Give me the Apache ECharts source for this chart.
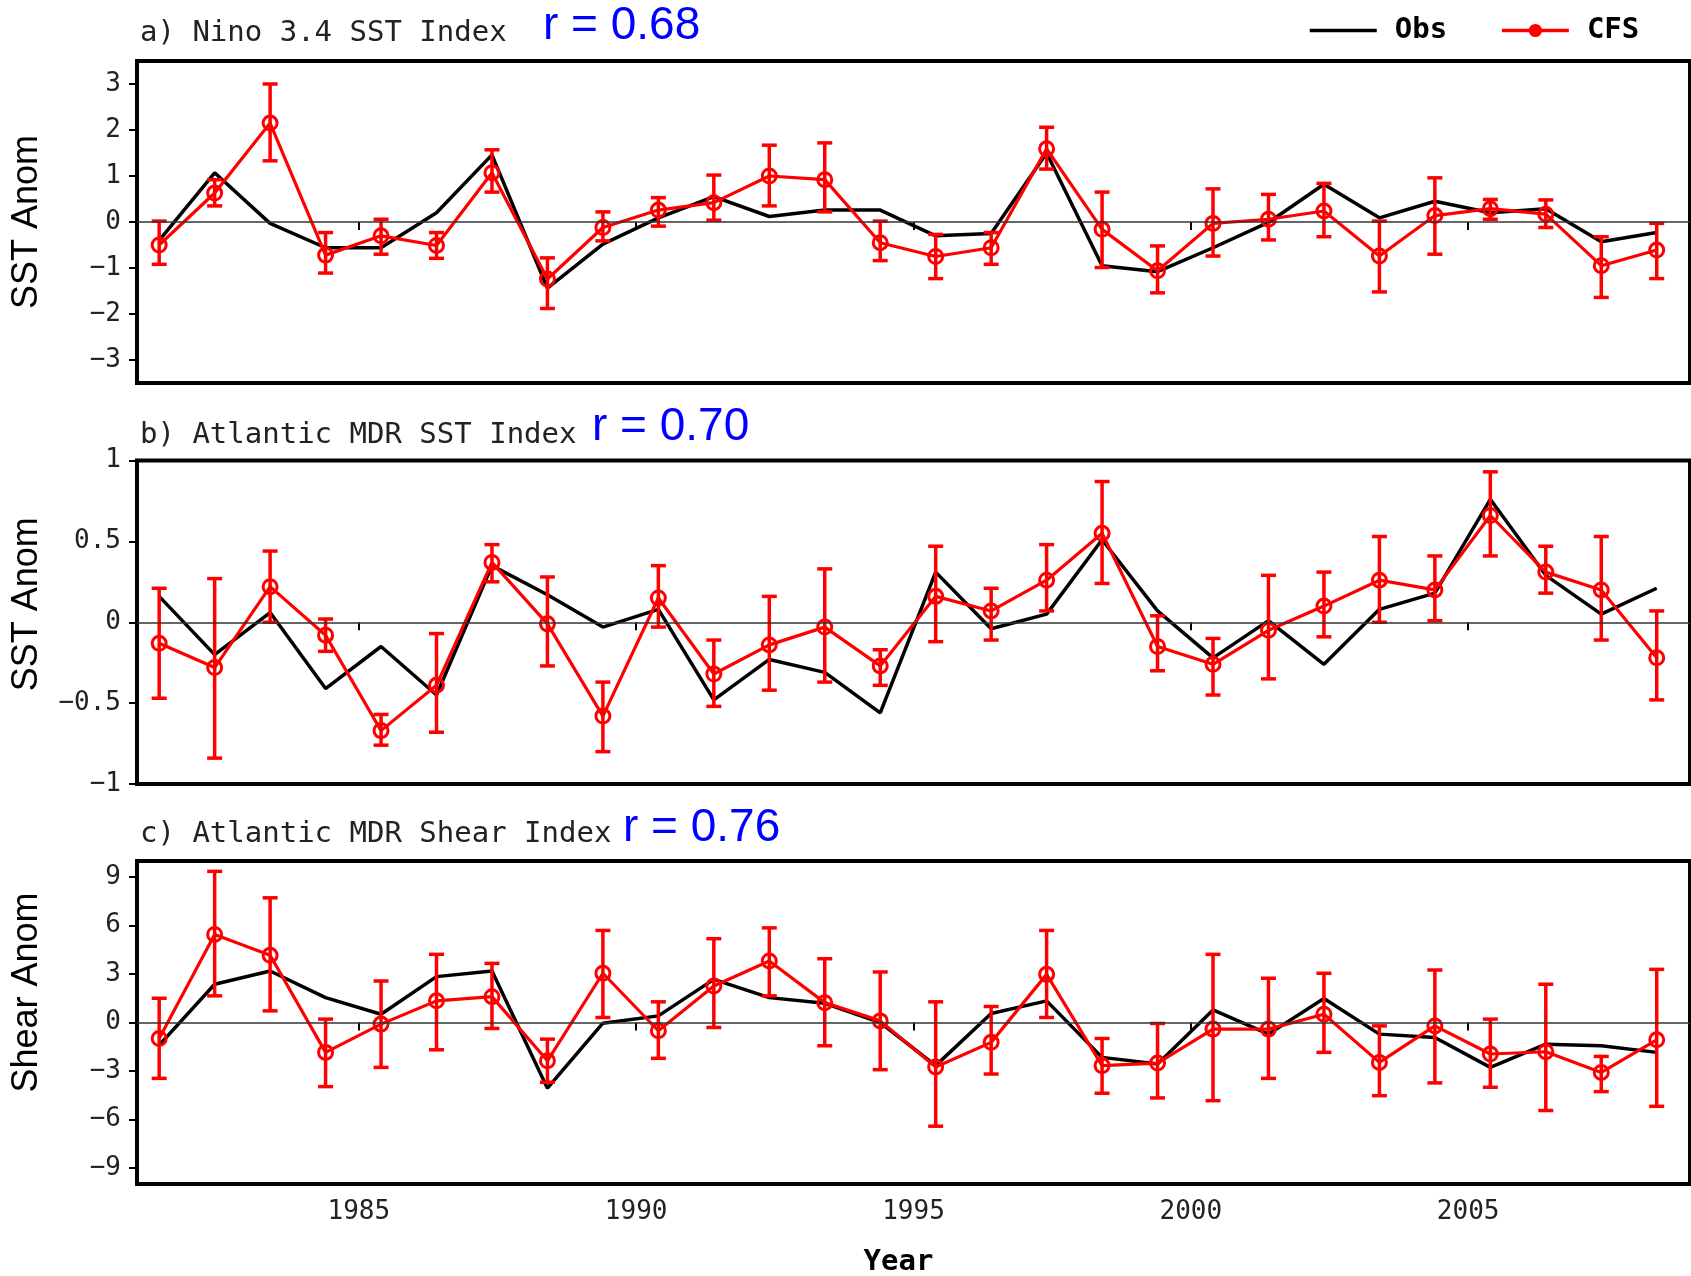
<!DOCTYPE html>
<html>
<head>
<meta charset="utf-8">
<script src="https://cdn.jsdelivr.net/npm/echarts@6/dist/echarts.min.js"></script>
<style>
html,body{margin:0;padding:0;background:#fff;}
#chart{width:1691px;height:1276px;}
</style>
</head>
<body>
<div id="chart"></div>
<script>
// ---------------- data ----------------
const years = [1981,1982,1983,1984,1985,1986,1987,1988,1989,1990,1991,1992,1993,1994,
               1995,1996,1997,1998,1999,2000,2001,2002,2003,2004,2005,2006,2007,2008];
const xTickYears = [1985, 1990, 1995, 2000, 2005];

// a) Nino 3.4 SST index
const obsA  = [-0.40, 1.07,-0.03,-0.56,-0.56, 0.20, 1.46,-1.44,-0.48, 0.09, 0.55, 0.12, 0.26, 0.26,
               -0.30,-0.25, 1.50,-0.95,-1.08,-0.56,-0.01, 0.82, 0.09, 0.45, 0.20, 0.29,-0.43,-0.23];
const cfsA  = [-0.50, 0.63, 2.15,-0.72,-0.30,-0.51, 1.07,-1.24,-0.12, 0.26, 0.42, 1.00, 0.92,-0.45,
               -0.75,-0.56, 1.59,-0.16,-1.06,-0.03, 0.06, 0.24,-0.74, 0.14, 0.29, 0.17,-0.95,-0.61];
const lowA  = [-0.92, 0.35, 1.33,-1.11,-0.70,-0.79, 0.65,-1.88,-0.41,-0.09, 0.04, 0.35, 0.22,-0.84,
               -1.23,-0.92, 1.15,-0.99,-1.54,-0.74,-0.39,-0.32,-1.52,-0.70, 0.06,-0.12,-1.64,-1.23];
const highA = [ 0.02, 0.92, 3.00,-0.23, 0.06,-0.23, 1.57,-0.78, 0.22, 0.53, 1.02, 1.67, 1.72, 0.02,
               -0.27,-0.23, 2.06, 0.65,-0.52, 0.72, 0.60, 0.84, 0.02, 0.96, 0.49, 0.48,-0.32,-0.03];

// b) Atlantic MDR SST index
const obsB  = [ 0.16,-0.20, 0.06,-0.41,-0.15,-0.45, 0.35, 0.17,-0.03, 0.08,-0.48,-0.23,-0.31,-0.56,
                0.31,-0.04, 0.05, 0.51, 0.07,-0.22, 0.01,-0.26, 0.08, 0.18, 0.76, 0.29, 0.05, 0.21];
const cfsB  = [-0.13,-0.28, 0.22,-0.08,-0.67,-0.39, 0.37,-0.01,-0.58, 0.15,-0.32,-0.14,-0.03,-0.27,
                0.16, 0.07, 0.26, 0.55,-0.15,-0.26,-0.05, 0.10, 0.26, 0.20, 0.66, 0.31, 0.20,-0.22];
const lowB  = [-0.47,-0.84, 0.00,-0.18,-0.76,-0.68, 0.25,-0.27,-0.80,-0.03,-0.52,-0.42,-0.37,-0.39,
               -0.12,-0.11, 0.07, 0.24,-0.30,-0.45,-0.35,-0.09, 0.00, 0.01, 0.41, 0.18,-0.11,-0.48];
const highB = [ 0.21, 0.27, 0.44, 0.02,-0.57,-0.07, 0.48, 0.28,-0.37, 0.35,-0.11, 0.16, 0.33,-0.17,
                0.47, 0.21, 0.48, 0.87, 0.04,-0.10, 0.29, 0.31, 0.53, 0.41, 0.93, 0.47, 0.53, 0.07];

// c) Atlantic MDR shear index
const obsC  = [-1.40, 2.37, 3.19, 1.54, 0.51, 2.84, 3.19,-4.07,-0.04, 0.41, 2.67, 1.54, 1.19, 0.00,
               -2.67, 0.56, 1.34,-2.16,-2.57, 0.78,-0.72, 1.48,-0.72,-0.93,-2.78,-1.34,-1.44,-1.85];
const cfsC  = [-0.99, 5.45, 4.16,-1.85,-0.10, 1.34, 1.60,-2.37, 3.05,-0.51, 2.26, 3.81, 1.23, 0.10,
               -2.75,-1.23, 2.98,-2.67,-2.51,-0.41,-0.41, 0.51,-2.47,-0.21,-1.95,-1.81,-3.09,-1.07];
const lowC  = [-3.46, 1.65, 0.72,-3.97,-2.78,-1.69,-0.37,-3.70, 0.31,-2.22,-0.31, 1.65,-1.44,-2.92,
               -6.42,-3.19, 0.31,-4.38,-4.67,-4.84,-3.46,-1.85,-4.53,-3.74,-4.01,-5.45,-4.28,-5.19];
const highC = [ 1.50, 9.36, 7.72, 0.21, 2.57, 4.22, 3.66,-1.03, 5.70, 1.28, 5.19, 5.86, 3.95, 3.13,
                1.28, 0.99, 5.70,-0.99,-0.06, 4.22, 2.74, 3.05,-0.21, 3.25, 0.21, 2.37,-2.10, 3.29];

const yTicksA = [-3, -2, -1, 0, 1, 2, 3];
const yTicksB = [-1, -0.5, 0, 0.5, 1];
const yTicksC = [-9, -6, -3, 0, 3, 6, 9];

const titles = ['a) Nino 3.4 SST Index', 'b) Atlantic MDR SST Index', 'c) Atlantic MDR Shear Index'];
const rTexts = ['r = 0.68', 'r = 0.70', 'r = 0.76'];
const yNames = ['SST Anom', 'SST Anom', 'Shear Anom'];

// ---------------- chart ----------------
const MONO = "'DejaVu Sans Mono', 'Liberation Mono', monospace";
const ARIAL = "'Liberation Sans', Arial, sans-serif";
const MID = 0.4; // seasonal value plotted partway through each year
const xPos = years.map(y => y + MID);

const panels = [
  {obs: obsA, cfs: cfsA, lo: lowA, hi: highA, min: -3.5, max: 3.5, ticks: yTicksA, top: 61,   height: 322,   nameShift: 0},
  {obs: obsB, cfs: cfsB, lo: lowB, hi: highB, min: -1,   max: 1,   ticks: yTicksB, top: 460.5, height: 323.5, nameShift: 36},
  {obs: obsC, cfs: cfsC, lo: lowC, hi: highC, min: -10,  max: 10,  ticks: yTicksC, top: 861,  height: 323,   nameShift: 60}
];

const fmtNum = v => (v < 0 ? '\u2212' + Math.abs(v) : String(v));

const grid = [], xAxis = [], yAxis = [], series = [];
panels.forEach((p, k) => {
  grid.push({left: 137, width: 1553, top: p.top, height: p.height, show: true,
             borderColor: '#000', borderWidth: 4, backgroundColor: 'transparent',
             containLabel: false, outerBoundsMode: 'none'});
  xAxis.push({
    type: 'value', gridIndex: k, min: 1981, max: 2009,
    axisLine: {show: false},
    splitLine: {show: false},
    axisTick: {show: true, inside: false, length: 8, customValues: xTickYears,
               lineStyle: {color: '#000', width: 2}},
    axisLabel: {show: k === 2, customValues: xTickYears, margin: 15,
                fontFamily: MONO, fontSize: 26, color: '#222', formatter: v => String(v)},
    name: k === 2 ? 'Year' : '',
    nameLocation: 'middle', nameGap: 64,
    nameTextStyle: {fontFamily: MONO, fontWeight: 'bold', fontSize: 29, color: '#000',
                    padding: [0, 30, 0, 0]}
  });
  yAxis.push({
    type: 'value', gridIndex: k, min: p.min, max: p.max,
    axisLine: {show: false},
    splitLine: {show: false},
    axisTick: {show: true, inside: false, length: 8, customValues: p.ticks,
               lineStyle: {color: '#000', width: 2}},
    axisLabel: {customValues: p.ticks, margin: 16, fontFamily: MONO, fontSize: 26,
                color: '#222', formatter: fmtNum},
    name: yNames[k], nameLocation: 'middle', nameRotate: 90, nameGap: 92,
    nameTextStyle: {fontFamily: ARIAL, fontSize: 36, color: '#000',
                    padding: [0, 0, 0, p.nameShift]}
  });
  series.push({
    name: 'Obs', type: 'line', xAxisIndex: k, yAxisIndex: k, z: 2,
    data: xPos.map((x, i) => [x, p.obs[i]]),
    symbol: 'none', lineStyle: {color: '#000', width: 3.5}, itemStyle: {color: '#000'},
    markLine: {silent: true, symbol: ['none', 'none'], label: {show: false},
               lineStyle: {color: '#333', width: 1.5, type: 'solid'},
               data: [{yAxis: 0}]}
  });
  series.push({
    name: 'CFS', type: 'line', xAxisIndex: k, yAxisIndex: k, z: 3,
    data: xPos.map((x, i) => [x, p.cfs[i]]),
    symbol: 'circle', symbolSize: 14, showSymbol: true,
    lineStyle: {color: '#ff0000', width: 3.2},
    itemStyle: {color: 'rgba(255,255,255,0)', borderColor: '#ff0000', borderWidth: 3}
  });
  series.push({
    name: 'CFS', type: 'custom', xAxisIndex: k, yAxisIndex: k, z: 4,
    data: xPos.map((x, i) => [x, p.lo[i], p.hi[i]]),
    encode: {x: 0, y: [1, 2]},
    renderItem: function (params, api) {
      const x = api.value(0);
      const a = api.coord([x, api.value(1)]);
      const b = api.coord([x, api.value(2)]);
      const hw = 7.5;
      const st = {stroke: '#ff0000', lineWidth: 3.5};
      return {type: 'group', children: [
        {type: 'line', shape: {x1: a[0], y1: a[1], x2: b[0], y2: b[1]}, style: st},
        {type: 'line', shape: {x1: a[0] - hw, y1: a[1], x2: a[0] + hw, y2: a[1]}, style: st},
        {type: 'line', shape: {x1: b[0] - hw, y1: b[1], x2: b[0] + hw, y2: b[1]}, style: st}
      ]};
    }
  });
});

const titleTops = [19, 421, 820];
const rTops = [3, 404, 805];
const rLefts = [543, 592, 623];
const title = [];
titles.forEach((t, k) => {
  title.push({text: t, left: 140, top: titleTops[k], padding: 0,
              textStyle: {fontFamily: MONO, fontSize: 29, fontWeight: 'normal', color: '#222', lineHeight: 29}});
  title.push({text: rTexts[k], left: rLefts[k], top: rTops[k], padding: 0,
              textStyle: {fontFamily: ARIAL, fontSize: 46, fontWeight: 'normal', color: '#0000ff', lineHeight: 46}});
});

const chart = echarts.init(document.getElementById('chart'), null, {renderer: 'canvas'});
chart.setOption({
  animation: false,
  backgroundColor: '#fff',
  title: title,
  legend: {
    data: [
      {name: 'Obs', itemStyle: {color: 'rgba(0,0,0,0)', borderColor: 'rgba(0,0,0,0)', borderWidth: 0},
       lineStyle: {color: '#000', width: 3.5}},
      {name: 'CFS', itemStyle: {color: '#ff0000', borderColor: '#ff0000'},
       lineStyle: {color: '#ff0000', width: 3.5}}
    ],
    left: 1308, top: 16, padding: 0, itemWidth: 67, itemHeight: 14, itemGap: 53,
    textStyle: {fontFamily: MONO, fontWeight: 'bold', fontSize: 29, color: '#000', padding: [0, 0, 0, 13]}
  },
  grid: grid,
  xAxis: xAxis,
  yAxis: yAxis,
  series: series
});
</script>
</body>
</html>
